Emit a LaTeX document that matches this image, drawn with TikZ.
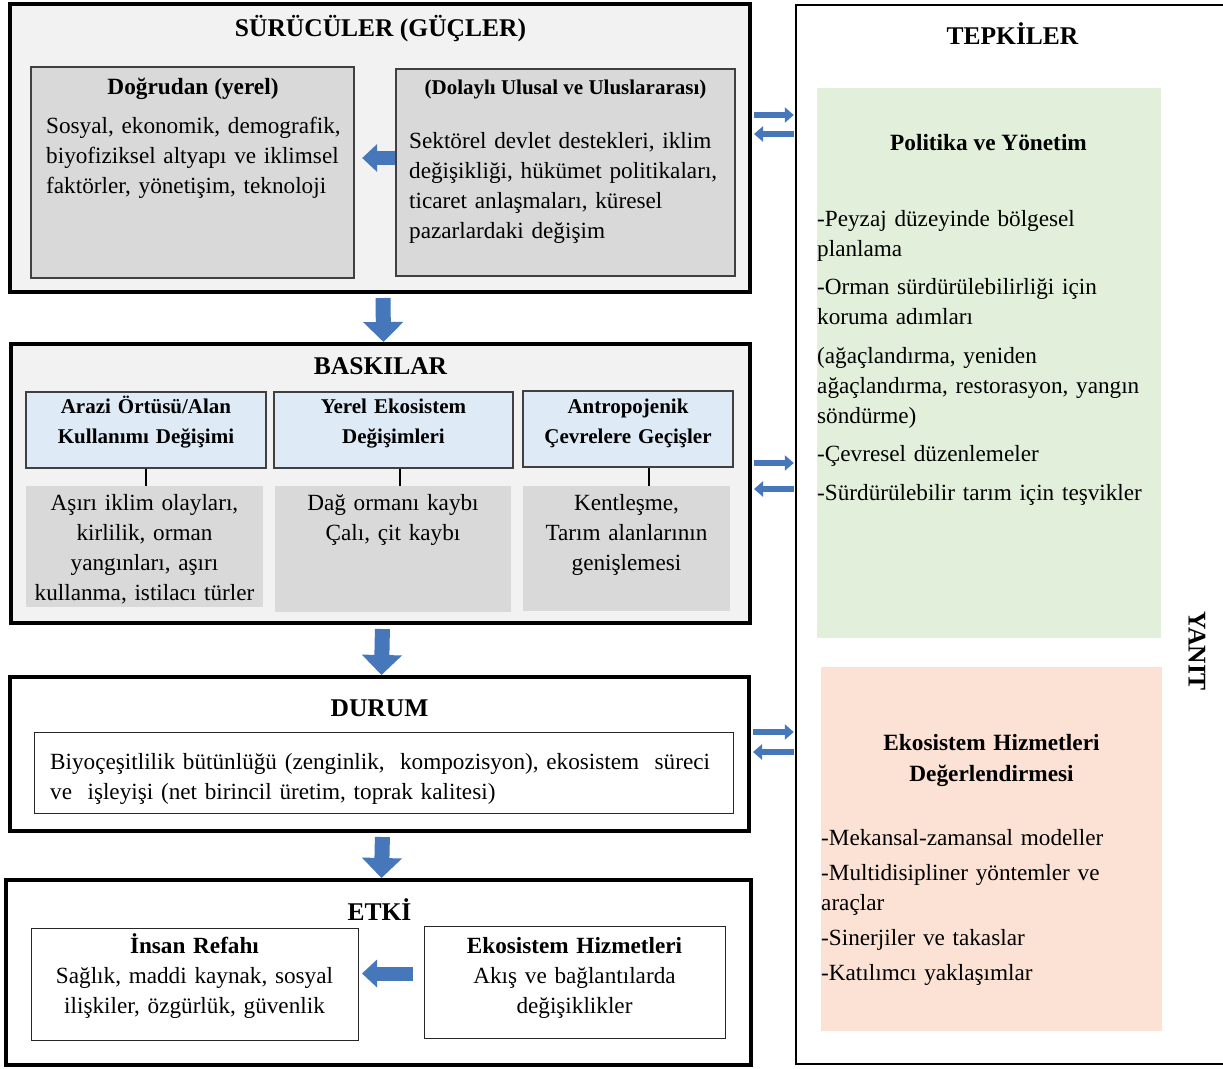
\documentclass[tikz,border=0pt]{standalone}
\usepackage{fontspec}
\setmainfont{Liberation Serif}
\usetikzlibrary{positioning, arrows.meta}

\definecolor{panelgray}{HTML}{F2F2F2}
\definecolor{boxgray}{HTML}{D9D9D9}
\definecolor{boxblue}{HTML}{DEEBF7}
\definecolor{boxgreen}{HTML}{E2EFDA}
\definecolor{boxpeach}{HTML}{FBE2D5}
\definecolor{arrowblue}{HTML}{4677BA}
\definecolor{edgegray}{HTML}{404040}

\newcommand{\hdfont}{\fontsize{25.5}{30}\selectfont\bfseries}
\newcommand{\subfont}{\fontsize{23.3}{30}\selectfont\bfseries}
\newcommand{\smbfont}{\fontsize{21}{30}\selectfont\bfseries}
\newcommand{\txtfont}{\fontsize{23.2}{30}\selectfont}

\tikzset{
  panel/.style={draw=black, line width=4pt, fill=panelgray, inner sep=0pt},
  box/.style={draw=edgegray, line width=1.3pt, inner sep=0pt},
  graybox/.style={fill=boxgray, inner sep=0pt},
  heading/.style={font=\hdfont, inner sep=0pt, anchor=base},
  subhead/.style={font=\subfont, inner sep=0pt, anchor=base},
  btitle/.style={font=\smbfont, align=center, text width=230pt, inner sep=0pt, anchor=base},
  txt/.style={font=\txtfont, align=left, inner sep=0pt, anchor=base west},
  ctxt/.style={font=\txtfont, align=center, text width=230pt, inner sep=0pt, anchor=base},
  downarrow/.style={draw=arrowblue, line width=15pt, -{Triangle[length=20pt, width=39pt]}, shorten <=4pt},
  leftarrow/.style={draw=arrowblue, line width=14pt, -{Triangle[length=15pt, width=27pt]}},
  sidearrow/.style={draw=arrowblue, line width=6pt, -{Triangle[length=9pt, width=15pt]}, shorten <=2pt, shorten >=2pt},
  stem/.style={draw=black, line width=1.5pt}
}

\begin{document}
\begin{tikzpicture}[x=1pt, y=-1pt]
  \useasboundingbox (0,0) rectangle (1223,1068);
  \fill[white] (0,0) rectangle (1223,1068);

  \node[panel, minimum width=740pt, minimum height=288pt] (surucu) at (380,148) {};
  \node[panel, minimum width=739pt, minimum height=279pt] (baski) at (380.5,483.5) {};
  \node[panel, fill=white, minimum width=739pt, minimum height=154pt] (durum) at (379.5,754) {};
  \node[panel, fill=white, minimum width=745pt, minimum height=185pt] (etki) at (378.5,972.5) {};
  \node[inner sep=0pt, minimum width=444pt, minimum height=1059pt] (tepki) at (1018,534.5) {};
  \draw[line width=2pt] (tepki.north east) -- (tepki.north west) -- (tepki.south west) -- (tepki.south east);

  % surucu
  \node[heading] (h-surucu) at (380.5,36) {SÜRÜCÜLER (GÜÇLER)};
  \node[box, fill=boxgray, minimum width=323pt, minimum height=211pt] (dogrudan) at (192.5,172.5) {};
  \node[box, fill=boxgray, minimum width=339pt, minimum height=207pt] (dolayli) at (565.5,172.5) {};
  \node[subhead] (h-dogrudan) at (193,94) {Doğrudan (yerel)};
  \node[txt, text width=310pt] (t-dogrudan) at (46,133) {Sosyal, ekonomik, demografik,\\biyofiziksel altyapı ve iklimsel\\faktörler, yönetişim, teknoloji};
  \node[font=\smbfont, inner sep=0pt, anchor=base] (h-dolayli) at (565.5,94) {(Dolaylı Ulusal ve Uluslararası)};
  \node[txt, text width=325pt] (t-dolayli) at (409,148) {Sektörel devlet destekleri, iklim\\değişikliği, hükümet politikaları,\\ticaret anlaşmaları, küresel\\pazarlardaki değişim};

  % baski
  \node[heading] (h-baski) at (380.5,374) {BASKILAR};
  \node[box, fill=boxblue, minimum width=240pt, minimum height=76pt] (arazi) at (146,430) {};
  \node[box, fill=boxblue, minimum width=239pt, minimum height=76pt] (yerel) at (393.5,430) {};
  \node[box, fill=boxblue, minimum width=210pt, minimum height=76pt] (antropo) at (628,429) {};
  \node[graybox, minimum width=237pt, minimum height=121pt] (kayip1) at (144.5,546.5) {};
  \node[graybox, minimum width=236pt, minimum height=126pt] (kayip2) at (393,549) {};
  \node[graybox, minimum width=207pt, minimum height=125pt] (kayip3) at (626.5,548.5) {};
  \node[btitle] (h-arazi) at (146,413) {Arazi Örtüsü/Alan\\Kullanımı Değişimi};
  \node[btitle] (h-yerel) at (393.5,413) {Yerel Ekosistem\\Değişimleri};
  \node[btitle] (h-antropo) at (628,413) {Antropojenik\\Çevrelere Geçişler};
  \node[ctxt] (t-kayip1) at (144.5,510) {Aşırı iklim olayları,\\kirlilik, orman\\yangınları, aşırı\\kullanma, istilacı türler};
  \node[ctxt] (t-kayip2) at (393,510) {Dağ ormanı kaybı\\Çalı, çit kaybı};
  \node[ctxt] (t-kayip3) at (626.5,510) {Kentleşme,\\Tarım alanlarının\\genişlemesi};
  \draw[stem] (arazi.south) -- (arazi.south |- kayip1.north);
  \draw[stem] ([xshift=6.5pt]yerel.south) -- ([xshift=6.5pt]yerel.south |- kayip2.north);
  \draw[stem] ([xshift=21pt]antropo.south) -- ([xshift=21pt]antropo.south |- kayip3.north);

  % durum
  \node[heading] (h-durum) at (379.5,716) {DURUM};
  \node[box, draw=black!85, line width=1pt, fill=white, minimum width=699pt, minimum height=81pt] (biyo) at (383.5,772.5) {};
  \node[txt, text width=680pt] (t-biyo) at (50,769) {\makebox[660pt][s]{Biyoçeşitlilik bütünlüğü (zenginlik,\ \ kompozisyon), ekosistem\ \ süreci}\\ve\ \ işleyişi (net birincil üretim, toprak kalitesi)};

  % etki
  \node[heading] (h-etki) at (379.5,920) {ETKİ};
  \node[box, draw=black!85, line width=1pt, fill=white, minimum width=327pt, minimum height=112pt] (insan) at (194.5,984) {};
  \node[box, draw=black!85, line width=1pt, fill=white, minimum width=301pt, minimum height=112pt] (ekohiz) at (574.5,982) {};
  \node[ctxt, text width=320pt] (t-insan) at (194.5,953) {\textbf{İnsan Refahı}\\Sağlık, maddi kaynak, sosyal\\ilişkiler, özgürlük, güvenlik};
  \node[ctxt, text width=300pt] (t-ekohiz) at (574.5,953) {\textbf{Ekosistem Hizmetleri}\\Akış ve bağlantılarda\\değişiklikler};

  % tepkiler
  \node[heading] (h-tepki) at (1012.5,44) {TEPKİLER};
  \node[fill=boxgreen, inner sep=0pt, minimum width=344pt, minimum height=550pt] (politika) at (989,363) {};
  \node[fill=boxpeach, inner sep=0pt, minimum width=341pt, minimum height=364pt] (degerlendirme) at (991.5,849) {};
  \node[subhead] (h-politika) at (988.5,150) {Politika ve Yönetim};
  \node[txt, text width=340pt] (t-politika) at (817,226) {-Peyzaj düzeyinde bölgesel\\planlama\\[8.5pt]-Orman sürdürülebilirliği için\\koruma adımları\\[8.5pt](ağaçlandırma, yeniden\\ağaçlandırma, restorasyon, yangın\\söndürme)\\[8.5pt]-Çevresel düzenlemeler\\[8.5pt]-Sürdürülebilir tarım için teşvikler};
  \node[subhead, align=center, text width=330pt] (h-degerlendirme) at (991.5,750) {Ekosistem Hizmetleri\\[1pt]Değerlendirmesi};
  \node[txt, text width=340pt] (t-degerlendirme) at (821,845) {-Mekansal-zamansal modeller\\[5pt]-Multidisipliner yöntemler ve\\araçlar\\[5.5pt]-Sinerjiler ve takaslar\\[5pt]-Katılımcı yaklaşımlar};
  \node[heading, anchor=center, rotate=-90] (yanit) at (1197,651) {YANIT};

  % arrows
  \draw[downarrow] ([xshift=3pt]surucu.south) -- ([xshift=3pt]baski.north);
  \draw[downarrow] ([xshift=2pt]baski.south) -- ([xshift=2pt]durum.north);
  \draw[downarrow] ([xshift=3pt]durum.south) -- ([xshift=3pt]etki.north);
  \draw[leftarrow, shorten >=7.5pt] ([yshift=14.5pt]dolayli.west) -- ([yshift=14.5pt]dogrudan.east);
  \draw[leftarrow, shorten <=11pt, shorten >=3.5pt] ([yshift=8.5pt]ekohiz.west) -- ([yshift=8.5pt]ekohiz.west -| insan.east);
  \draw[sidearrow] (surucu.east |- 0,115) -- (tepki.west |- 0,115);
  \draw[sidearrow] (tepki.west |- 0,134) -- (surucu.east |- 0,134);
  \draw[sidearrow] (baski.east |- 0,463) -- (tepki.west |- 0,463);
  \draw[sidearrow] (tepki.west |- 0,489) -- (baski.east |- 0,489);
  \draw[sidearrow] (durum.east |- 0,732) -- (tepki.west |- 0,732);
  \draw[sidearrow] (tepki.west |- 0,752) -- (durum.east |- 0,752);
\end{tikzpicture}
\end{document}
